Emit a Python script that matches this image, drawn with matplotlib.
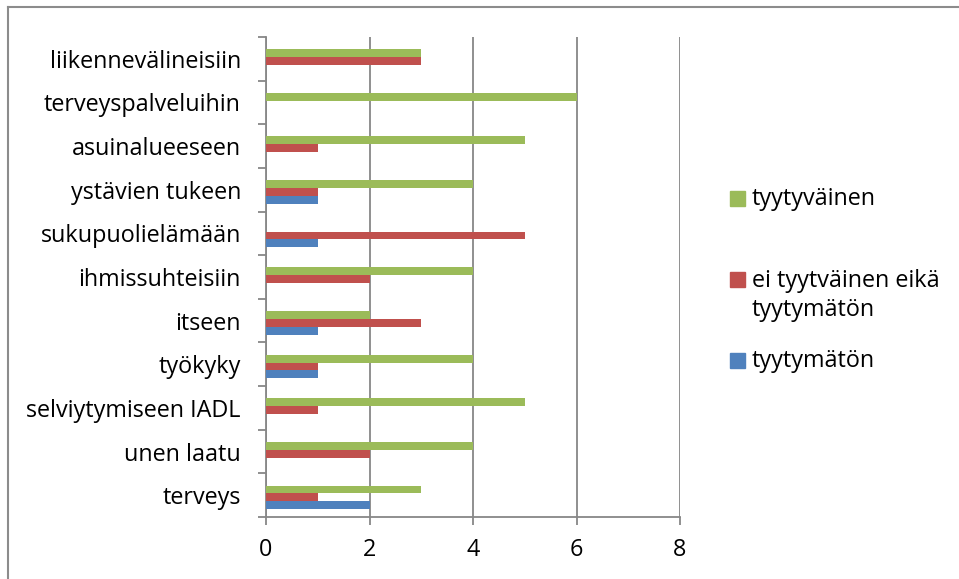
import matplotlib
matplotlib.use('Agg')
from matplotlib import pyplot as plt
from matplotlib.patches import Rectangle
from matplotlib.lines import Line2D
import numpy as np

categories = ['terveys', 'unen laatu', 'selviytymiseen IADL', 'työkyky', 'itseen',
              'ihmissuhteisiin', 'sukupuolielämään', 'ystävien tukeen',
              'asuinalueeseen', 'terveyspalveluihin', 'liikennevälineisiin']
tyytymaton = [2, 0, 0, 1, 1, 0, 1, 1, 0, 0, 0]
ei_kumpikaan = [1, 2, 1, 1, 3, 2, 5, 1, 1, 0, 3]
tyytyvainen = [3, 4, 5, 4, 2, 4, 0, 4, 5, 6, 3]
series_names = ['tyytyväinen', 'ei tyytväinen eikä\ntyytymätön', 'tyytymätön']
xticks = [0, 2, 4, 6, 8]

GREEN = '#9BBB59'
RED = '#C0504D'
BLUE = '#4F81BD'
GRID = '#878787'
FS = 16.8

plt.rcParams['font.family'] = ['Open Sans', 'DejaVu Sans']

fig = plt.figure(figsize=(9.59, 5.79), dpi=100)
W, H = 959, 579
ax = fig.add_axes([266 / W, 62 / H, 414 / W, 480 / H])

# group sits a little below the category centre
y = np.arange(len(categories))
yb = y - 0.05
h = 0.18
ax.barh(yb + h, tyytyvainen, height=h, color=GREEN, linewidth=0, zorder=3)
ax.barh(yb, ei_kumpikaan, height=h, color=RED, linewidth=0, zorder=3)
ax.barh(yb - h, tyytymaton, height=h, color=BLUE, linewidth=0, zorder=3)

ax.set_xlim(0, 8)
ax.set_ylim(-0.5, len(categories) - 0.5)
ax.set_xticks(xticks)
ax.set_yticks(y)
ax.set_yticklabels(categories)
ax.set_yticks(np.arange(-0.5, len(categories), 1), minor=True)
ax.tick_params(axis='y', which='major', length=0, pad=18, labelsize=FS)
ax.tick_params(axis='y', which='minor', length=6, width=1.3, color=GRID)
ax.tick_params(axis='x', length=6, width=1.3, color=GRID, labelsize=FS, pad=9)
ax.grid(axis='x', color=GRID, linewidth=1.3, zorder=0)
for s in ['top', 'right']:
    ax.spines[s].set_visible(False)
for s in ['left', 'bottom']:
    ax.spines[s].set_color(GRID)
    ax.spines[s].set_linewidth(1.3)

# legend drawn by hand so the square sits on the first text line
legend_rows = [(GREEN, series_names[0], 198), (RED, series_names[1], 280), (BLUE, series_names[2], 360)]
for color, label, yc in legend_rows:
    fig.add_artist(Rectangle((730 / W, (H - yc - 7.5) / H), 15 / W, 15 / H,
                             transform=fig.transFigure, color=color))
    fig.text(752 / W, (H - yc + 11) / H, label, fontsize=FS, va='top', ha='left',
             linespacing=1.3)

# chart frame
fig.add_artist(Line2D([8 / W, 8 / W], [0, (H - 7) / H], color='#8c8c8c', linewidth=1.5,
                      transform=fig.transFigure))
fig.add_artist(Line2D([8 / W, 1], [(H - 7) / H, (H - 7) / H], color='#8c8c8c', linewidth=1.5,
                      transform=fig.transFigure))

fig.savefig('out.png', dpi=100)
